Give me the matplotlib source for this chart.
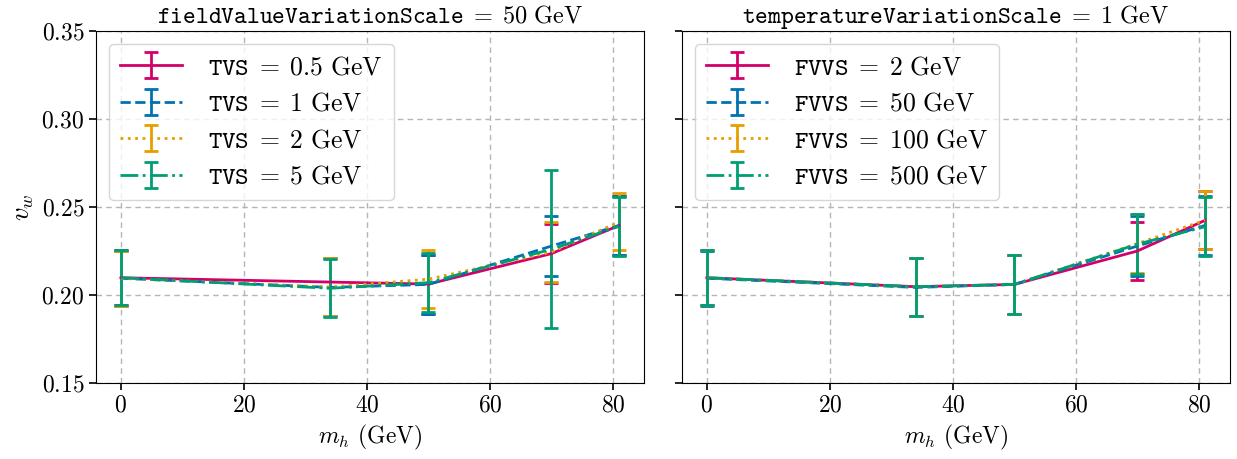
import matplotlib
matplotlib.use("Agg")
import matplotlib.pyplot as plt

plt.rcParams["font.family"] = "serif"
plt.rcParams["font.serif"] = ["cmr10"]
plt.rcParams["mathtext.fontset"] = "cm"
plt.rcParams["axes.formatter.use_mathtext"] = True
plt.rcParams["font.size"] = 17

# Higgs masses (GeV)
m_h = [0, 34, 50, 70, 81]
m_h_sparse = [0, 50, 70, 81]  # TVS = 0.5 GeV run has no 34 GeV point

colors = ["#D4006A", "#0072B2", "#E69F00", "#009E73"]
styles = ["-", "--", ":", "-."]

# left panel: fieldValueVariationScale = 50 GeV, varying TVS
tvs_labels = ["0.5", "1", "2", "5"]
tvs_x = [m_h_sparse, m_h, m_h, m_h]
tvs_vw = [
    [0.2098, 0.2062, 0.2235, 0.2395],
    [0.2095, 0.2043, 0.2060, 0.2278, 0.2395],
    [0.2095, 0.2045, 0.2090, 0.2244, 0.2415],
    [0.2098, 0.2038, 0.2070, 0.2260, 0.2390],
]
tvs_err = [
    [0.0155, 0.0168, 0.0166, 0.0165],
    [0.0155, 0.0165, 0.0168, 0.0169, 0.0165],
    [0.0155, 0.0165, 0.0166, 0.0168, 0.0162],
    [0.0155, 0.0165, 0.0168, 0.0450, 0.0167],
]

# right panel: temperatureVariationScale = 1 GeV, varying FVVS
fvvs_labels = ["2", "50", "100", "500"]
fvvs_x = [m_h, m_h, m_h, m_h]
fvvs_vw = [
    [0.2098, 0.2047, 0.2060, 0.2250, 0.2424],
    [0.2095, 0.2043, 0.2060, 0.2278, 0.2395],
    [0.2098, 0.2047, 0.2060, 0.2292, 0.2425],
    [0.2098, 0.2047, 0.2060, 0.2289, 0.2388],
]
fvvs_err = [
    [0.0155, 0.0165, 0.0168, 0.0167, 0.0165],
    [0.0155, 0.0165, 0.0168, 0.0169, 0.0165],
    [0.0155, 0.0165, 0.0168, 0.0168, 0.0165],
    [0.0155, 0.0165, 0.0168, 0.0170, 0.0167],
]

fig = plt.figure(figsize=(12.37, 4.59), dpi=100)
ax1 = fig.add_axes([0.0776, 0.1656, 0.4430, 0.7669])
ax2 = fig.add_axes([0.5513, 0.1656, 0.4430, 0.7669], sharey=ax1)


def draw(ax, xs, vals, errs, labels, key, title):
    for x, v, e, lab, c, ls in zip(xs, vals, errs, labels, colors, styles):
        ax.errorbar(x, v, yerr=e, color=c, ls=ls, lw=2, elinewidth=2,
                    capsize=5, capthick=2,
                    label=r"$\mathtt{%s}\;=\;%s\ \mathrm{GeV}$" % (key, lab))
    ax.set_title(title, fontsize=17.5)
    ax.set_xlabel(r"$m_h$ (GeV)")
    ax.grid(True, ls=(0, (4, 3)), color="#b5b5b5", lw=1)
    ax.set_xticks([0, 20, 40, 60, 80])
    ax.tick_params(length=5, width=1.2)
    ax.legend(loc="upper left", fontsize=18.5, handlelength=2.4,
              borderpad=0.45, labelspacing=0.5, handletextpad=1.0,
              borderaxespad=0.5)


draw(ax1, tvs_x, tvs_vw, tvs_err, tvs_labels, "TVS",
     r"$\mathtt{fieldValueVariationScale}\;=\;50\ \mathrm{GeV}$")
draw(ax2, fvvs_x, fvvs_vw, fvvs_err, fvvs_labels, "FVVS",
     r"$\mathtt{temperatureVariationScale}\;=\;1\ \mathrm{GeV}$")

ax1.set_ylim(0.15, 0.35)
ax1.set_yticks([0.15, 0.20, 0.25, 0.30, 0.35])
ax1.set_ylabel(r"$v_w$", fontsize=19)
plt.setp(ax2.get_yticklabels(), visible=False)

fig.savefig("out.png", dpi=100)
